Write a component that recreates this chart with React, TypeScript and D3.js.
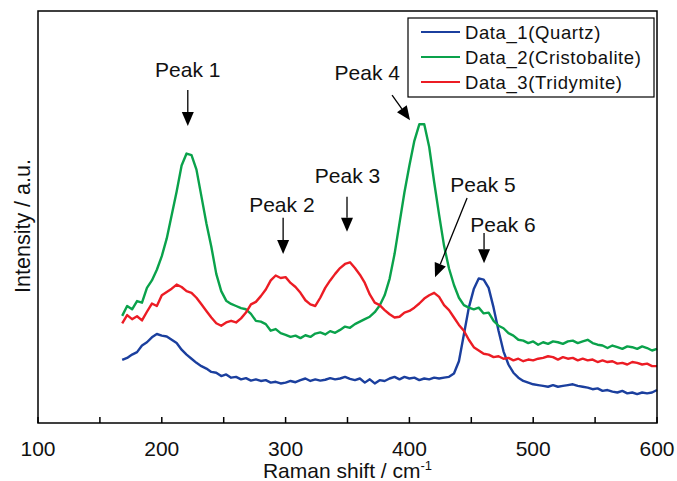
import React from 'react';
import * as d3 from 'd3';

// Raman shift grid (cm-1) shared by the three spectra
const shifts = [
  168, 172, 176, 180, 184, 188, 192, 196, 200, 204, 208, 212, 216, 220, 224, 228, 232, 236, 240, 244,
  248, 252, 256, 260, 264, 268, 272, 276, 280, 284, 288, 292, 296, 300, 304, 308, 312, 316, 320, 324,
  328, 332, 336, 340, 344, 348, 352, 356, 360, 364, 368, 372, 376, 380, 384, 388, 392, 396, 400, 404,
  408, 412, 416, 420, 424, 428, 432, 436, 440, 444, 448, 452, 456, 460, 464, 468, 472, 476, 480, 484,
  488, 492, 496, 500, 504, 508, 512, 516, 520, 524, 528, 532, 536, 540, 544, 548, 552, 556, 560, 564,
  568, 572, 576, 580, 584, 588, 592, 596, 600,
];

const quartz = [
  15.3, 15.8, 16.6, 17.2, 18.8, 19.6, 20.8, 21.6, 21.2, 21.0, 20.2, 19.4, 17.8, 16.6, 15.6, 14.6, 13.8, 13.2, 12.4, 12.2,
  11.4, 11.8, 11.0, 11.2, 10.6, 10.9, 10.3, 10.6, 10.2, 10.4, 9.8, 10.0, 9.6, 9.8, 10.2, 9.9, 10.4, 10.8, 10.2, 10.6,
  10.3, 10.5, 10.9, 10.6, 10.8, 11.2, 10.7, 10.4, 10.8, 9.8, 10.6, 9.6, 10.4, 10.2, 10.8, 11.2, 10.6, 11.2, 10.8, 11.0,
  10.4, 10.8, 10.6, 11.0, 10.8, 11.0, 11.2, 12.0, 15.0, 21.5, 28.0, 32.5, 35.1, 34.8, 32.8, 28.0, 22.4, 17.4, 14.2, 12.2,
  11.0, 10.2, 9.8, 9.4, 9.2, 9.0, 8.8, 9.2, 8.8, 9.0, 9.2, 9.4, 9.0, 8.8, 8.6, 8.2, 8.4, 7.8, 8.0, 7.6,
  7.4, 7.8, 7.2, 7.4, 7.0, 7.4, 7.2, 7.4, 8.0,
];

const cristobalite = [
  26.0, 28.4, 27.6, 29.6, 29.2, 32.8, 34.6, 37.2, 40.5, 44.8, 50.5, 56.2, 62.5, 65.4, 65.0, 61.5, 55.0, 48.5, 42.8, 36.2,
  32.0, 29.7, 28.9, 28.4, 27.9, 27.6, 26.5, 24.8, 24.6, 24.0, 22.4, 22.8, 21.8, 21.4, 20.9, 21.2, 20.6, 21.3, 20.9, 21.7,
  22.0, 21.5, 22.3, 21.9, 22.6, 23.4, 23.1, 24.0, 24.6, 25.2, 25.8, 26.9, 28.5, 31.0, 35.0, 41.0, 48.5, 56.0, 62.5, 68.5,
  72.5, 72.5, 67.0, 58.5, 50.5, 43.0, 37.5, 33.5, 30.4, 28.6, 28.0, 27.6, 28.0, 26.6, 26.8, 24.8, 23.6, 23.0, 21.8, 21.2,
  20.2, 20.0, 19.4, 19.8, 19.0, 19.6, 19.2, 19.8, 19.6, 19.2, 19.8, 20.0, 19.4, 19.8, 20.2, 19.4, 19.0, 18.8, 18.2, 18.8,
  18.4, 18.0, 18.6, 18.4, 18.0, 18.6, 18.2, 17.6, 18.0,
];

const tridymite = [
  24.2, 26.2, 25.2, 25.9, 24.9, 27.0, 29.0, 28.4, 31.0, 31.8, 32.6, 33.6, 33.0, 32.0, 31.6, 30.4, 28.8, 27.2, 25.6, 24.2,
  23.6, 24.4, 24.8, 24.4, 25.4, 26.8, 28.8, 29.4, 30.8, 32.4, 34.6, 35.8, 35.2, 35.4, 34.0, 33.0, 31.6, 29.8, 28.8, 28.4,
  30.4, 32.8, 34.6, 36.2, 37.6, 38.6, 39.0, 37.6, 36.0, 34.0, 31.2, 29.2, 28.6, 27.4, 26.4, 25.6, 25.8, 26.8, 27.2, 28.0,
  29.0, 30.2, 31.0, 31.6, 30.6, 28.6, 27.4, 25.6, 23.8, 22.4, 20.2, 18.4, 17.6, 16.8, 16.6, 16.0, 16.2, 15.6, 15.8, 15.2,
  15.6, 15.0, 15.4, 15.2, 15.6, 15.8, 16.2, 16.0, 15.4, 16.0, 15.6, 15.8, 15.2, 15.6, 15.2, 15.4, 14.8, 15.2, 14.8, 15.0,
  14.4, 14.6, 14.2, 14.8, 14.6, 14.2, 14.4, 13.8, 13.8,
];

const seriesNames = ['Data_1(Quartz)', 'Data_2(Cristobalite)', 'Data_3(Tridymite)'];
const seriesColors = ['#1b3f9e', '#0aa24b', '#ec1c24'];

const xTicks = [100, 150, 200, 250, 300, 350, 400, 450, 500, 550, 600];
const xTickLabels = ['100', '200', '300', '400', '500', '600'];

// peak notes: label anchor and arrow tail/tip in data units (shift, intensity)
const peakNotes = [
  { label: 'Peak 1', lx: 221, ly: 84.0, x1: 221, y1: 80.8, x2: 221, y2: 72.1 },
  { label: 'Peak 2', lx: 297, ly: 51.2, x1: 298, y1: 49.8, x2: 298, y2: 41.0 },
  { label: 'Peak 3', lx: 350, ly: 58.3, x1: 349.6, y1: 54.9, x2: 349.6, y2: 46.4 },
  { label: 'Peak 4', lx: 366, ly: 83.3, x1: 386, y1: 79.6, x2: 400.5, y2: 73.5 },
  { label: 'Peak 5', lx: 459.5, ly: 56.1, x1: 446.6, y1: 54.6, x2: 420.7, y2: 35.4 },
  { label: 'Peak 6', lx: 475.6, ly: 46.4, x1: 460.3, y1: 46.1, x2: 460.3, y2: 38.8 },
];

const W = 677;
const H = 481;
const left = 38, right = 657, top = 11, bottom = 423;
const font = '"Liberation Sans", Arial, sans-serif';

function Arrow({ x1, y1, x2, y2 }: { x1: number; y1: number; x2: number; y2: number }) {
  const dx = x2 - x1, dy = y2 - y1;
  const len = Math.sqrt(dx * dx + dy * dy);
  const ux = dx / len, uy = dy / len;
  const head = 14, half = 6;
  const bx = x2 - ux * head, by = y2 - uy * head;
  const pts = [
    [x2, y2],
    [bx - uy * half, by + ux * half],
    [bx + uy * half, by - ux * half],
  ];
  return (
    <g>
      <line x1={x1} y1={y1} x2={bx} y2={by} stroke="#000" strokeWidth={1.3} />
      <polygon points={pts.map(p => p.join(',')).join(' ')} fill="#000" />
    </g>
  );
}

export default function App() {
  const x = d3.scaleLinear().domain([100, 600]).range([left, right]);
  const y = d3.scaleLinear().domain([0, 100]).range([bottom, top]);
  const series = [quartz, cristobalite, tridymite];

  const line = d3
    .line<number>()
    .x((_, i) => x(shifts[i]))
    .y(d => y(d));

  return (
    <svg width={W} height={H} style={{ position: 'absolute', left: 0, top: 0, background: '#fff' }}>
      <rect x={0} y={0} width={W} height={H} fill="#fff" />

      {series.map((s, i) => (
        <path key={i} d={line(s) || ''} fill="none" stroke={seriesColors[i]} strokeWidth={2.4} strokeLinejoin="round" />
      ))}

      {/* frame */}
      <rect x={left} y={top} width={right - left} height={bottom - top} fill="none" stroke="#000" strokeWidth={1.5} />
      {xTicks.map(t => (
        <line key={t} x1={x(t)} x2={x(t)} y1={bottom} y2={bottom - 6} stroke="#000" strokeWidth={1.5} />
      ))}
      {xTickLabels.map(t => (
        <text key={t} x={x(+t)} y={456} textAnchor="middle" fontFamily={font} fontSize={21} fill="#111">
          {t}
        </text>
      ))}

      <text x={(left + right) / 2} y={478} textAnchor="middle" fontFamily={font} fontSize={21} fill="#111">
        Raman shift / cm<tspan dy={-8} fontSize={13}>-1</tspan>
      </text>
      <text
        transform={`translate(30,226) rotate(-90)`}
        textAnchor="middle"
        fontFamily={font}
        fontSize={21.5}
        fill="#111"
      >
        Intensity / a.u.
      </text>

      {peakNotes.map(p => (
        <g key={p.label}>
          <text x={x(p.lx)} y={y(p.ly)} textAnchor="middle" fontFamily={font} fontSize={21} fill="#111">
            {p.label}
          </text>
          <Arrow x1={x(p.x1)} y1={y(p.y1)} x2={x(p.x2)} y2={y(p.y2)} />
        </g>
      ))}

      {/* legend */}
      <rect x={408} y={18} width={246} height={79} fill="#fff" stroke="#000" strokeWidth={1.2} />
      {seriesNames.map((n, i) => (
        <g key={n}>
          <line x1={421} x2={460} y1={32 + i * 25} y2={32 + i * 25} stroke={seriesColors[i]} strokeWidth={2} />
          <text x={465} y={38.5 + i * 25} fontFamily={font} fontSize={18.5} letterSpacing={0.6} fill="#111">
            {n}
          </text>
        </g>
      ))}
    </svg>
  );
}
